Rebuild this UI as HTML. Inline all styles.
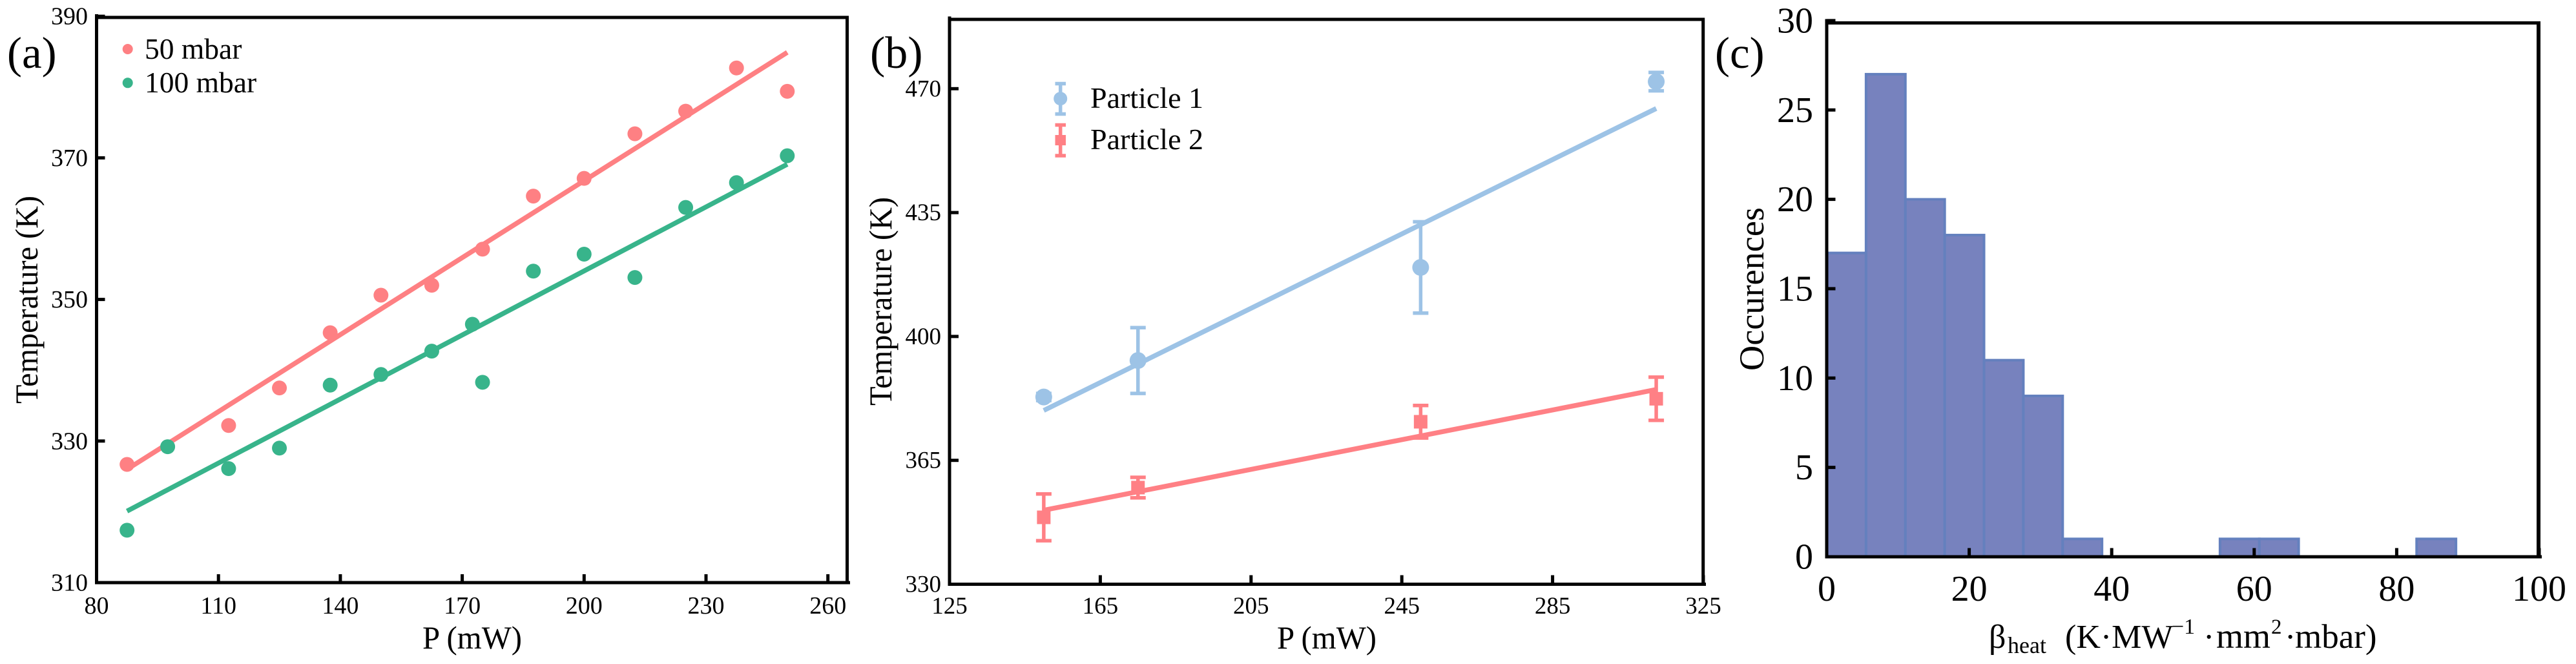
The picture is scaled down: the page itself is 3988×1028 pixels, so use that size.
<!DOCTYPE html>
<html lang="en">
<head>
<meta charset="utf-8">
<title>Temperature vs power and heating coefficient histogram</title>
<style>
html,body{margin:0;padding:0;background:#fff;}
svg{display:block;}
text{font-family:"Liberation Serif","DejaVu Serif",serif;fill:#000;}
</style>
</head>
<body>
<svg id="figure" xmlns="http://www.w3.org/2000/svg" width="3988" height="1028" viewBox="0 0 3988 1028">
  <rect x="0" y="0" width="3988" height="1028" fill="#ffffff"/>

  <g id="panel-a">
    <g id="a-marks"></g>
    <g stroke="#000" stroke-width="5" fill="none">
      <line x1="149.5" y1="22" x2="149.5" y2="904.5"/>
      <line x1="147" y1="27" x2="1314" y2="27"/>
      <line x1="1311.5" y1="24.5" x2="1311.5" y2="904.5"/>
      <line x1="147" y1="902" x2="1316" y2="902"/>
    </g>
    <g id="a-axes"></g>
    <text x="11" y="105" font-size="69">(a)</text>
    <text transform="translate(58,464) rotate(-90)" text-anchor="middle" font-size="49.5" textLength="322" lengthAdjust="spacingAndGlyphs">Temperature (K)</text>
    <text x="731" y="1004" text-anchor="middle" font-size="50" textLength="154" lengthAdjust="spacingAndGlyphs">P (mW)</text>
    <g>
      <circle cx="197.7" cy="76" r="8" fill="#FE8083"/>
      <text x="224" y="91" font-size="45.5">50 mbar</text>
      <circle cx="197.7" cy="128.3" r="8" fill="#38B48B"/>
      <text x="224" y="143" font-size="45.5">100 mbar</text>
    </g>
  </g>

  <g id="panel-b">
    <g id="b-marks"></g>
    <g stroke="#000" stroke-width="5" fill="none">
      <line x1="1470" y1="25.5" x2="1470" y2="907"/>
      <line x1="1467.5" y1="30" x2="2639" y2="30"/>
      <line x1="2636.7" y1="27.5" x2="2636.7" y2="907"/>
      <line x1="1467.5" y1="904.5" x2="2641" y2="904.5"/>
    </g>
    <g id="b-axes"></g>
    <text x="1347" y="105" font-size="70">(b)</text>
    <text transform="translate(1380,466.5) rotate(-90)" text-anchor="middle" font-size="49.5" textLength="323" lengthAdjust="spacingAndGlyphs">Temperature (K)</text>
    <text x="2054" y="1004" text-anchor="middle" font-size="50" textLength="154" lengthAdjust="spacingAndGlyphs">P (mW)</text>
    <g>
      <g stroke="#9DC3E6" stroke-width="5.5" fill="#9DC3E6">
        <line x1="1641.7" y1="129.5" x2="1641.7" y2="176.5"/>
        <line x1="1633.5" y1="129.5" x2="1650" y2="129.5"/>
        <line x1="1633.5" y1="176.5" x2="1650" y2="176.5"/>
        <circle cx="1641.7" cy="152.7" r="10.5" stroke="none"/>
      </g>
      <text x="1688" y="167" font-size="46">Particle 1</text>
      <g stroke="#FF8085" stroke-width="5.5" fill="#FF8085">
        <line x1="1641.7" y1="193.5" x2="1641.7" y2="241"/>
        <line x1="1633.5" y1="193.5" x2="1650" y2="193.5"/>
        <line x1="1633.5" y1="241" x2="1650" y2="241"/>
        <rect x="1633.5" y="209" width="16.5" height="16" stroke="none"/>
      </g>
      <text x="1688" y="231" font-size="46">Particle 2</text>
    </g>
  </g>

  <g id="panel-c">
    <g id="c-marks"></g>
    <g stroke="#000" stroke-width="5" fill="none">
      <line x1="2828" y1="29.5" x2="2828" y2="864.5"/>
      <line x1="2825.5" y1="35.5" x2="3932" y2="35.5"/>
      <line x1="3930" y1="33" x2="3930" y2="864.5" stroke-width="6"/>
      <line x1="2825.5" y1="862" x2="3935" y2="862"/>
    </g>
    <g id="c-axes"></g>
    <text x="2655" y="105" font-size="69">(c)</text>
    <text transform="translate(2730,447.5) rotate(-90)" text-anchor="middle" font-size="54" textLength="253" lengthAdjust="spacingAndGlyphs">Occurences</text>
    <g>
      <text x="3079" y="1003" font-size="52">β</text>
      <text x="3108" y="1011" font-size="36">heat</text>
      <text x="3197" y="1003" font-size="52">(K·MW</text>
      <text x="3362" y="981" font-size="34">−1</text>
      <text x="3411" y="1003" font-size="52">·</text>
      <text x="3431" y="1003" font-size="54">mm</text>
      <text x="3516" y="981" font-size="33">2</text>
      <text x="3537" y="1003" font-size="52">·</text>
      <text x="3553" y="1003" font-size="53">mbar)</text>
    </g>
  </g>
</svg>

<script>
// ---- Panel (a) data ----
const aXTicks = [80, 110, 140, 170, 200, 230, 260];
const aYTicks = [310, 330, 350, 370, 390];
const aPower50 = [87.5, 112.5, 125, 137.5, 150, 162.5, 175, 187.5, 200, 212.5, 225, 237.5, 250];
const aTemp50 = [326.7, 332.2, 337.5, 345.3, 350.6, 352.0, 357.1, 364.6, 367.1, 373.4, 376.6, 382.7, 379.4];
const aPower100 = [87.5, 97.5, 112.5, 125, 137.5, 150, 162.5, 172.5, 175, 187.5, 200, 212.5, 225, 237.5, 250];
const aTemp100 = [317.4, 329.2, 326.1, 329.0, 337.9, 339.4, 342.7, 346.5, 338.3, 354.0, 356.4, 353.1, 363.0, 366.5, 370.3];
const aFitPower = [87.5, 250];
const aFit50 = [326.0, 384.9];
const aFit100 = [320.1, 369.1];

// ---- Panel (b) data ----
const bXTicks = [125, 165, 205, 245, 285, 325];
const bYTicks = [330, 365, 400, 435, 470];
const bPower = [150, 175, 250, 312.5];
const bTemp1 = [382.9, 393.2, 419.5, 472.0];
const bErr1 = [1.0, 9.3, 12.9, 2.6];
const bTemp2 = [348.9, 357.3, 375.9, 382.4];
const bErr2 = [6.6, 2.9, 4.6, 6.1];
const bFitPower = [150, 312.5];
const bFit1 = [379.1, 464.4];
const bFit2 = [350.9, 385.0];

// ---- Panel (c) data ----
const cXTicks = [0, 20, 40, 60, 80, 100];
const cYTicks = [0, 5, 10, 15, 20, 25, 30];
const cBinWidth = 5.52;
const cCounts = [17, 27, 20, 18, 11, 9, 1, 0, 0, 0, 1, 1, 0, 0, 0, 1];

// ---- Axis functions ----
const aX = v => 149.5 + (v - 80) * 6.29;
const aY = v => 902 - (v - 310) * 10.96;
const bX = v => 1470 + (v - 125) * 5.835;
const bY = v => 904.5 - (v - 330) * 5.48;
const cX = v => 2828 + v * 11.03;
const cY = v => 862 - v * 27.67;

const NS = 'http://www.w3.org/2000/svg';
function make(tag, attrs, parent) {
  const node = document.createElementNS(NS, tag);
  for (const key in attrs) node.setAttribute(key, attrs[key]);
  parent.appendChild(node);
  return node;
}

function drawAxis(group, xTicks, yTicks, xScale, yScale, opts) {
  xTicks.forEach(function (t) {
    const tick = make('line', {x1: xScale(t), x2: xScale(t), y1: opts.bottom, y2: opts.bottom - opts.tickLen, stroke: '#000', 'stroke-width': 5}, group);
    
    
    const label = make('text', {x: xScale(t), y: opts.xLabelY, 'text-anchor': 'middle', 'font-size': opts.fontSize}, group);
    label.textContent = String(t);
    
    
  });
  yTicks.forEach(function (t) {
    const tick = make('line', {x1: opts.left, x2: opts.left + opts.tickLen, y1: yScale(t), y2: yScale(t), stroke: '#000', 'stroke-width': 5}, group);
    
    
    const label = make('text', {x: opts.yLabelX, y: yScale(t) + opts.yLabelDy, 'text-anchor': 'end', 'font-size': opts.fontSize}, group);
    label.textContent = String(t);
    
    
  });
}

// ---- Panel (a) ----
const aMarks = document.getElementById('a-marks');
const aAxes = document.getElementById('a-axes');
drawAxis(aAxes, aXTicks, aYTicks, aX, aY, {left: 149.5, bottom: 902, tickLen: 13, xLabelY: 950, yLabelX: 136, yLabelDy: 12.5, fontSize: 38});

const aLine50 = make('line', {x1: aX(aFitPower[0]), y1: aY(aFit50[0]), x2: aX(aFitPower[1]), y2: aY(aFit50[1]), stroke: '#FE8083', 'stroke-width': 7.5}, aMarks);


const aLine100 = make('line', {x1: aX(aFitPower[0]), y1: aY(aFit100[0]), x2: aX(aFitPower[1]), y2: aY(aFit100[1]), stroke: '#38B48B', 'stroke-width': 7.5}, aMarks);



aPower50.forEach(function (p, i) {
  const dot = make('circle', {cx: aX(p), cy: aY(aTemp50[i]), r: 11.5, fill: '#FE8083'}, aMarks);
  
  
});
aPower100.forEach(function (p, i) {
  const dot = make('circle', {cx: aX(p), cy: aY(aTemp100[i]), r: 11.5, fill: '#38B48B'}, aMarks);
  
  
});

// ---- Panel (b) ----
const bMarks = document.getElementById('b-marks');
const bAxes = document.getElementById('b-axes');
drawAxis(bAxes, bXTicks, bYTicks, bX, bY, {left: 1470, bottom: 904.5, tickLen: 14, xLabelY: 950, yLabelX: 1457, yLabelDy: 12, fontSize: 37});

const bLine1 = make('line', {x1: bX(bFitPower[0]), y1: bY(bFit1[0]), x2: bX(bFitPower[1]), y2: bY(bFit1[1]), stroke: '#9DC3E6', 'stroke-width': 7.5}, bMarks);


const bLine2 = make('line', {x1: bX(bFitPower[0]), y1: bY(bFit2[0]), x2: bX(bFitPower[1]), y2: bY(bFit2[1]), stroke: '#FF8085', 'stroke-width': 7.5}, bMarks);



function drawErrorBar(group, p, mean, err, color, label) {
  const x = bX(p);
  const top = bY(mean + err);
  const bottom = bY(mean - err);
  const stem = make('line', {x1: x, x2: x, y1: top, y2: bottom, stroke: color, 'stroke-width': 5.5}, group);
  
  
  const capTop = make('line', {x1: x - 12, x2: x + 12, y1: top, y2: top, stroke: color, 'stroke-width': 5.5}, group);
  
  
  const capBottom = make('line', {x1: x - 12, x2: x + 12, y1: bottom, y2: bottom, stroke: color, 'stroke-width': 5.5}, group);
  
  
}

bPower.forEach(function (p, i) {
  drawErrorBar(bMarks, p, bTemp1[i], bErr1[i], '#9DC3E6', 'particle-1');
  const dot = make('circle', {cx: bX(p), cy: bY(bTemp1[i]), r: 13, fill: '#9DC3E6'}, bMarks);
  
  
  drawErrorBar(bMarks, p, bTemp2[i], bErr2[i], '#FF8085', 'particle-2');
  const square = make('rect', {x: bX(p) - 10.5, y: bY(bTemp2[i]) - 10.5, width: 21, height: 21, fill: '#FF8085'}, bMarks);
  
  
});

// ---- Panel (c) ----
const cMarks = document.getElementById('c-marks');
const cAxes = document.getElementById('c-axes');
cCounts.forEach(function (count, i) {
  if (count === 0) return;
  const x0 = cX(i * cBinWidth);
  const x1 = cX((i + 1) * cBinWidth);
  const bar = make('rect', {x: x0, y: cY(count), width: x1 - x0, height: cY(0) - cY(count), fill: '#7782BE', stroke: '#6480BE', 'stroke-width': 4}, cMarks);
  
  
});
drawAxis(cAxes, cXTicks, cYTicks, cX, cY, {left: 2828, bottom: 862, tickLen: 13.5, xLabelY: 930, yLabelX: 2807, yLabelDy: 18.5, fontSize: 56});
</script>
</body>
</html>
